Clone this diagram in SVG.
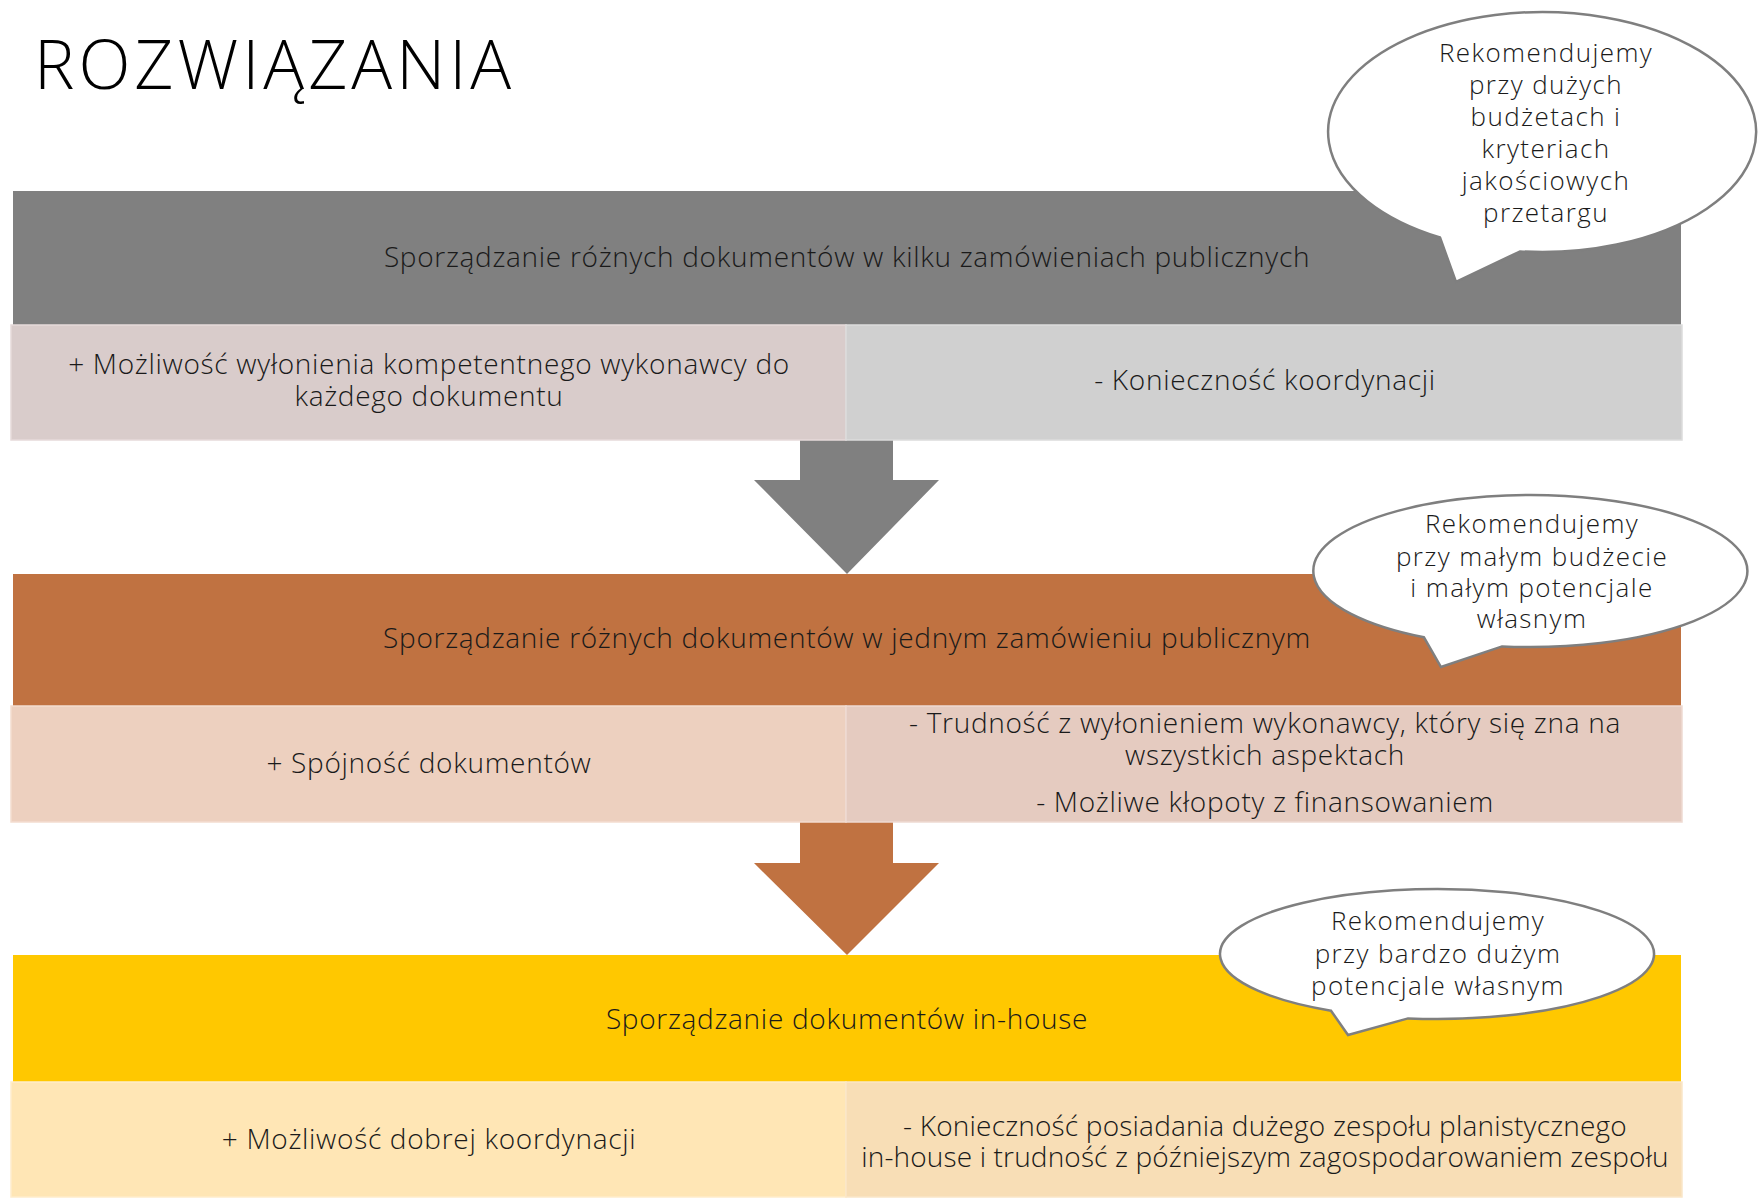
<svg xmlns="http://www.w3.org/2000/svg" width="1758" height="1198" viewBox="0 0 1758 1198">
<style>
.t{font-family:"Open Sans","Liberation Sans",sans-serif;font-weight:300;font-size:28px;letter-spacing:0.7px;fill:#1a1a1a;text-anchor:middle}
.bt{font-size:26px;letter-spacing:1.4px}
.title{font-family:"Open Sans","Liberation Sans",sans-serif;font-weight:300;font-size:68px;letter-spacing:4px;fill:#000}
.bub{fill:#fff;stroke:#7f7f7f;stroke-width:2.5;stroke-linejoin:miter}
.cell{stroke-width:1.5}
</style>
<rect width="1758" height="1198" fill="#fff"/>
<text class="title" x="34" y="89">ROZWIĄZANIA</text>

<g id="connectors">
  <polygon id="arrow1" points="800,440 893,440 893,480 939,480 847,574 754,480 800,480" fill="#808080"/>
  <polygon id="arrow2" points="800,822 893,822 893,863 939,863 847,955 754,863 800,863" fill="#C07241"/>
</g>

<g id="option1">
  <rect x="13" y="191" width="1668" height="134" fill="#808080"/>
  <text class="t" x="847" y="267">Sporządzanie różnych dokumentów w kilku zamówieniach publicznych</text>
</g>
<g id="option1-plus">
  <rect class="cell" x="11" y="325" width="835" height="115" fill="#D9CCCB" stroke="#E6DADA"/>
  <text class="t" x="429" y="374">+ Możliwość wyłonienia kompetentnego wykonawcy do</text>
  <text class="t" x="429" y="406">każdego dokumentu</text>
</g>
<g id="option1-minus">
  <rect class="cell" x="846" y="325" width="836" height="115" fill="#D0D0D0" stroke="#DCDCDC"/>
  <text class="t" x="1265" y="390">- Konieczność koordynacji</text>
</g>

<g id="option2">
  <rect x="13" y="574" width="1668" height="132" fill="#C07241"/>
  <text class="t" x="847" y="648">Sporządzanie różnych dokumentów w jednym zamówieniu publicznym</text>
</g>
<g id="option2-plus">
  <rect class="cell" x="11" y="706" width="835" height="116" fill="#EDD0BF" stroke="#F3DDD0"/>
  <text class="t" x="429" y="773">+ Spójność dokumentów</text>
</g>
<g id="option2-minus">
  <rect class="cell" x="846" y="706" width="836" height="116" fill="#E5CBC0" stroke="#EEDAD2"/>
  <text class="t" x="1265" y="733">- Trudność z wyłonieniem wykonawcy, który się zna na</text>
  <text class="t" x="1265" y="765">wszystkich aspektach</text>
  <text class="t" x="1265" y="812">- Możliwe kłopoty z finansowaniem</text>
</g>

<g id="option3">
  <rect x="13" y="955" width="1668" height="127" fill="#FFC800"/>
  <text class="t" x="847" y="1029">Sporządzanie dokumentów in-house</text>
</g>
<g id="option3-plus">
  <rect class="cell" x="11" y="1082" width="835" height="115" fill="#FFE6B5" stroke="#FFEDCB"/>
  <text class="t" x="429" y="1149">+ Możliwość dobrej koordynacji</text>
</g>
<g id="option3-minus">
  <rect class="cell" x="846" y="1082" width="836" height="115" fill="#F8DEB6" stroke="#FAE6C8"/>
  <text class="t" x="1265" y="1136" style="letter-spacing:0.2px">- Konieczność posiadania dużego zespołu planistycznego</text>
  <text class="t" x="1265" y="1167" style="letter-spacing:0.15px">in-house i trudność z późniejszym zagospodarowaniem zespołu</text>
</g>

<g id="bubble1">
  <path class="bub" d="M1440,237.5 L1456,282 L1520,251.4 A214,120 0 1 0 1440,237.5 Z"/>
  <text class="t bt" x="1546" y="62">Rekomendujemy</text>
  <text class="t bt" x="1546" y="94">przy dużych</text>
  <text class="t bt" x="1546" y="126">budżetach i</text>
  <text class="t bt" x="1546" y="158">kryteriach</text>
  <text class="t bt" x="1546" y="190">jakościowych</text>
  <text class="t bt" x="1546" y="222">przetargu</text>
</g>
<g id="bubble2">
  <path class="bub" d="M1424,637.3 L1441,667 L1502,646.4 A217,76 0 1 0 1424,637.3 Z"/>
  <text class="t bt" x="1532" y="533">Rekomendujemy</text>
  <text class="t bt" x="1532" y="566">przy małym budżecie</text>
  <text class="t bt" x="1532" y="597">i małym potencjale</text>
  <text class="t bt" x="1532" y="628">własnym</text>
</g>
<g id="bubble3">
  <path class="bub" d="M1331,1010.7 L1348,1035 L1408,1018.4 A217,65 0 1 0 1331,1010.7 Z"/>
  <text class="t bt" x="1438" y="930">Rekomendujemy</text>
  <text class="t bt" x="1438" y="963">przy bardzo dużym</text>
  <text class="t bt" x="1438" y="995">potencjale własnym</text>
</g>
</svg>
